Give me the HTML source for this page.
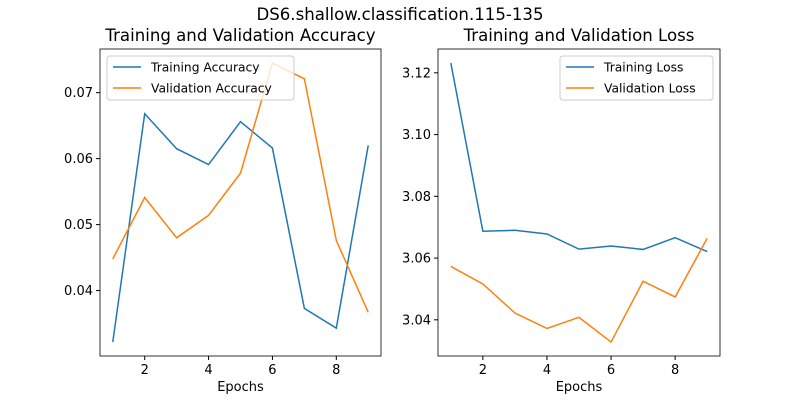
<!DOCTYPE html>
<html><head><meta charset="utf-8"><style>
body{margin:0;background:#fff;}
svg{font-family:"DejaVu Sans","Liberation Sans",sans-serif;}
</style></head><body>
<svg id="c" width="800" height="400" xmlns="http://www.w3.org/2000/svg">
<rect width="800" height="400" fill="#fff"/>
<text x="400" y="20" text-anchor="middle" font-size="16.6">DS6.shallow.classification.115-135</text>
</svg>
<script>
const epochs=[1,2,3,4,5,6,7,8,9];
const trainAcc=[0.0322,0.0668,0.0615,0.0591,0.0656,0.0616,0.0373,0.0343,0.0620];
const valAcc=[0.0448,0.0541,0.0480,0.0514,0.0578,0.0745,0.0721,0.0476,0.0367];
const trainLoss=[3.1232,3.0687,3.0690,3.0678,3.0629,3.0639,3.0628,3.0666,3.0621];
const valLoss=[3.0573,3.0516,3.0422,3.0372,3.0408,3.0328,3.0525,3.0474,3.0664];
const xTicks=[2,4,6,8];
const accTicks=[0.04,0.05,0.06,0.07];
const lossTicks=[3.04,3.06,3.08,3.10,3.12];
const svg=document.getElementById('c');
const NS='http://www.w3.org/2000/svg';
function mk(tag,attrs,parent){const e=document.createElementNS(NS,tag);for(const k in attrs)e.setAttribute(k,attrs[k]);(parent||svg).appendChild(e);return e;}
function panel(L,R,T,B,s1,s2,names,ticks,dec,title,legX,legW,key){
  const all=s1.concat(s2);let mn=Math.min(...all),mx=Math.max(...all);const m=(mx-mn)*0.05;mn-=m;mx+=m;
  const xs=v=>L+(v-0.6)/(8.8)*(R-L);
  const ys=v=>B-(v-mn)/(mx-mn)*(B-T);
  const g=mk('g',{});
  
  
  const t=mk('text',{x:(L+R)/2,y:T-8,'text-anchor':'middle','font-size':16.6},g);t.textContent=title;
  
  
  xTicks.forEach(v=>{const x=xs(v);mk('line',{x1:x,x2:x,y1:B,y2:B+4,stroke:'#000'},g);
    const tx=mk('text',{x:x,y:B+18,'text-anchor':'middle','font-size':13},g);tx.textContent=v;
    
    });
  ticks.forEach(v=>{const y=ys(v);mk('line',{x1:L-4,x2:L,y1:y,y2:y,stroke:'#000'},g);
    const tx=mk('text',{x:L-7,y:y+4.5,'text-anchor':'end','font-size':13},g);tx.textContent=v.toFixed(dec);
    
    });
  const xl=mk('text',{x:(L+R)/2,y:B+35,'text-anchor':'middle','font-size':13},g);xl.textContent='Epochs';
  
  
  [[s1,'#1f77b4'],[s2,'#ff7f0e']].forEach(([s,c],i)=>{
    const p=mk('polyline',{points:s.map((v,j)=>xs(epochs[j])+','+ys(v)).join(' '),fill:'none',stroke:c,'stroke-width':1.5},g);
    
    });
  mk('rect',{x:L,y:T,width:R-L,height:B-T,fill:'none',stroke:'#000','stroke-width':0.8},g);
  const lg=mk('g',{},g);
  
  
  mk('rect',{x:legX,y:T+7,width:legW,height:44,rx:3,fill:'#fff','fill-opacity':0.8,stroke:'#ccc'},lg);
  names.forEach((n,i)=>{const y=T+18+i*21;
    mk('line',{x1:legX+6,x2:legX+34,y1:y,y2:y,stroke:i?'#ff7f0e':'#1f77b4','stroke-width':1.5},lg);
    const tx=mk('text',{x:legX+44,y:y+4.5,'font-size':12.3},lg);tx.textContent=n;
    
    });
}
panel(100,381,49,356,trainAcc,valAcc,['Training Accuracy','Validation Accuracy'],accTicks,2,'Training and Validation Accuracy',107,187,'accuracy');
panel(438,720,49,356,trainLoss,valLoss,['Training Loss','Validation Loss'],lossTicks,2,'Training and Validation Loss',560,153,'loss');
</script>
</body></html>
